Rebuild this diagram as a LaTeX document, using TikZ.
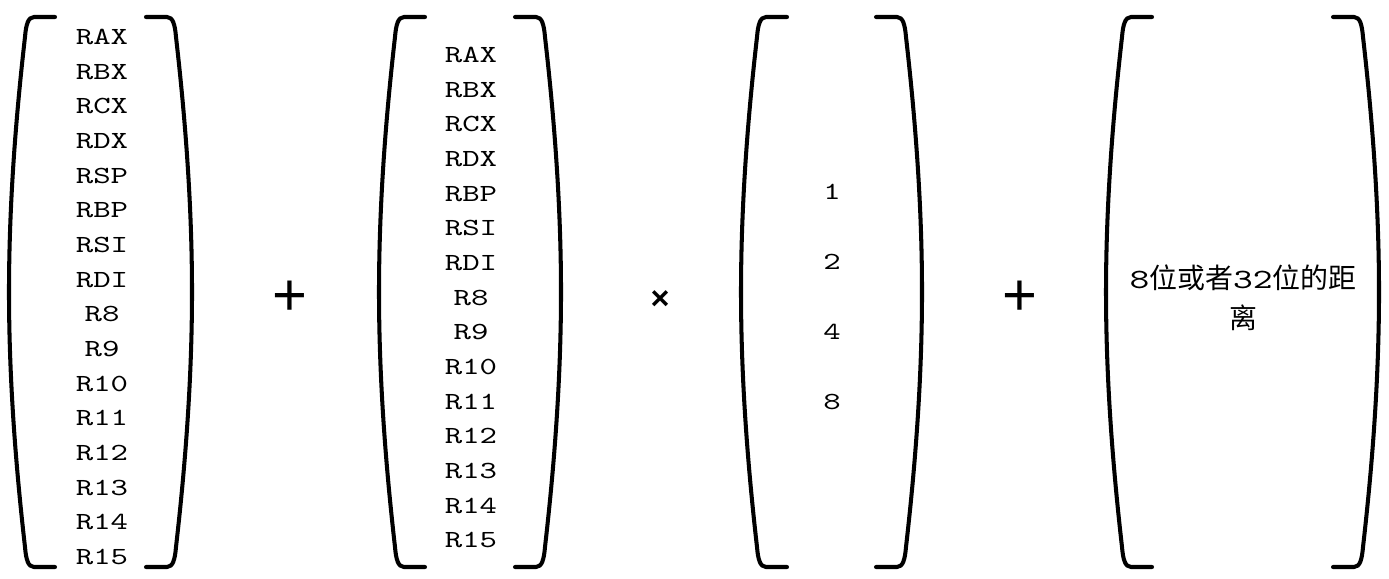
\documentclass[tikz,border=0pt]{standalone}
\usepackage{fontspec}
\newfontfamily\cjk{Noto Sans CJK SC}
\newfontfamily\opfont{Liberation Sans}
\newfontfamily\widett{lmmono10-regular.otf}[FakeStretch=1.35]
\usetikzlibrary{positioning}

\tikzset{
  paren/.pic={
    \draw[line width=2.3pt,line cap=round]
      (0,0) -- (-21,0) .. controls (-27,0) and (-29,8) .. (-30,20)
      .. controls (-38,90) and (-46,180) .. (-46,275)
      .. controls (-46,370) and (-38,460) .. (-30,530)
      .. controls (-29,542) and (-27,550) .. (-21,550) -- (0,550);
  },
  regs/.style={align=center,font=\widett\fontsize{14}{19.73}\selectfont},
  ops/.style={font=\opfont\fontsize{34}{40}\selectfont},
}

\begin{document}
\begin{tikzpicture}[x=0.02cm,y=-0.02cm]
        \useasboundingbox (0,0) rectangle (1389,578);

        %%% base
        \pic at (55,17) {paren};
        \pic[xscale=-1] at (146,17) {paren};
        \node[regs] (base) at (102,297) {RAX\\RBX\\RCX\\RDX\\RSP\\RBP\\RSI\\RDI\\R8\\R9\\R10\\R11\\R12\\R13\\R14\\R15};

        \node[ops] (plusA) at (290,298) {+};

        %%% index
        \pic at (425,17) {paren};
        \pic[xscale=-1] at (515,17) {paren};
        \node[regs] (index) at (471,297.5) {RAX\\RBX\\RCX\\RDX\\RBP\\RSI\\RDI\\R8\\R9\\R10\\R11\\R12\\R13\\R14\\R15};

        \node[font=\opfont\bfseries\fontsize{18.5}{20}\selectfont] (times) at (660,300) {×};

        %%% scale
        \pic at (787,17) {paren};
        \pic[xscale=-1] at (876,17) {paren};
        \node[align=center,font=\widett\fontsize{14}{39.7}\selectfont] (scale) at (832,297) {1\\2\\4\\8};

        \node[ops] (plusB) at (1020,298) {+};

        %%% displacement
        \pic at (1152,17) {paren};
        \pic[xscale=-1] at (1333,17) {paren};
        \node[align=center,font=\cjk\fontsize{15.9}{22.7}\selectfont] (disp) at (1243,298) {{\widett 8}位或者{\widett 32}位的距\\离};
\end{tikzpicture}
\end{document}
